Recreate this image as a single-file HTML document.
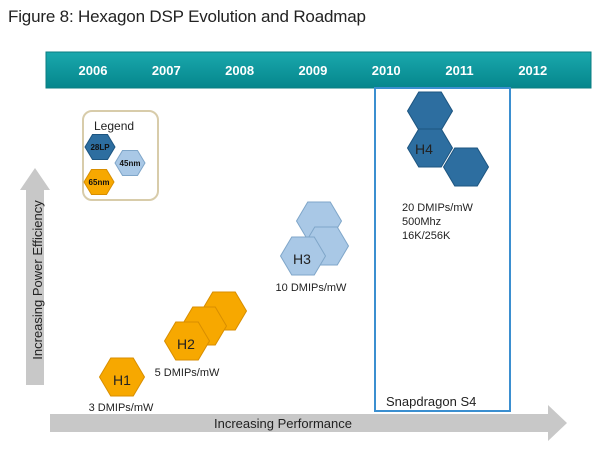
<!DOCTYPE html>
<html><head><meta charset="utf-8"><style>
body{margin:0;background:#fff;}
svg text{font-family:"Liberation Sans",sans-serif;}
</style></head><body>
<svg width="600" height="450" viewBox="0 0 600 450">
<defs>
<linearGradient id="teal" x1="0" y1="0" x2="0" y2="1"><stop offset="0" stop-color="#1aa8ad"/><stop offset="1" stop-color="#05868c"/></linearGradient>
</defs>
<text x="8" y="22" font-size="17" fill="#222" textLength="358">Figure 8: Hexagon DSP Evolution and Roadmap</text>
<rect x="46" y="52" width="545" height="36" fill="url(#teal)" stroke="#0a7d82"/>
<g id="years"></g>
<rect x="375" y="88" width="135" height="323" fill="none" stroke="#3b8fd0" stroke-width="2"/>
<text x="386" y="406" font-size="13" fill="#222">Snapdragon S4</text>
<rect x="83" y="111" width="75" height="89" rx="9" fill="none" stroke="#d8ccaa" stroke-width="2"/>
<text x="94" y="130" font-size="12" fill="#222">Legend</text>
<g id="legend"></g>
<polygon points="20,190 35,168 50,190 44,190 44,385 26,385 26,190" fill="#c8c8c8"/>
<text transform="translate(42,280) rotate(-90)" text-anchor="middle" font-size="13" fill="#222">Increasing Power Efficiency</text>
<polygon points="50,414 548,414 548,405 567,423 548,441 548,432 50,432" fill="#c8c8c8"/>
<text x="283" y="428" text-anchor="middle" font-size="13" fill="#222">Increasing Performance</text>
<g id="chips"></g>
</svg>
<script>
const years=["2006","2007","2008","2009","2010","2011","2012"];
const chipNames=["H1","H2","H3","H4"];
const chipDmips=["3 DMIPs/mW","5 DMIPs/mW","10 DMIPs/mW","20 DMIPs/mW"];
const chipNodes=["65nm","65nm","45nm","28LP"];
const colors={"65nm":["#f7a800","#d88e00"],"45nm":["#a9c8e6","#7fa6c9"],"28LP":["#2d6ea0","#1d5580"]};
const NS="http://www.w3.org/2000/svg";
function mk(t,a){const e=document.createElementNS(NS,t);for(const k in a)e.setAttribute(k,a[k]);return e;}
function hexPts(cx,cy,w,h){const q=w/4;return [[cx-w/2,cy],[cx-q,cy-h/2],[cx+q,cy-h/2],[cx+w/2,cy],[cx+q,cy+h/2],[cx-q,cy+h/2]].map(p=>p.join(",")).join(" ");}
function hex(g,cx,cy,w,h,node,name){const c=colors[node];const p=mk("polygon",{points:hexPts(cx,cy,w,h),fill:c[0],stroke:c[1],"stroke-width":1});


g.appendChild(p);}
const yg=document.getElementById("years");
const xYear=i=>93+i*73.3;
years.forEach((y,i)=>{const t=mk("text",{x:xYear(i),y:75,"text-anchor":"middle","font-size":13,"font-weight":"bold",fill:"#fff"});t.textContent=y;


yg.appendChild(t);});
const lg=document.getElementById("legend");
[["28LP",100,147],["45nm",130,163],["65nm",99,182]].forEach(([n,x,y])=>{hex(lg,x,y,30,25,n,'legend-hex-'+n.toLowerCase());const t=mk("text",{x:x,y:y+3,"text-anchor":"middle","font-size":8,"font-weight":"bold",fill:"#111"});t.textContent=n;


lg.appendChild(t);});
const layout=[
 {hexes:[[122,377]],lab:[122,385],dm:[121,411],anchor:"middle"},
 {hexes:[[224,311],[204,326],[187,341]],lab:[186,349],dm:[187,376],anchor:"middle"},
 {hexes:[[319,221],[326,246],[303,256]],lab:[302,264],dm:[311,291],anchor:"middle"},
 {hexes:[[430,111],[430,148],[466,167]],lab:[424,154],dm:[402,211],anchor:"start"}];
const cg=document.getElementById("chips");
chipNames.forEach((n,i)=>{const L=layout[i];const g=mk("g",{});


L.hexes.forEach((h,j)=>hex(g,h[0],h[1],45,38,chipNodes[i],'hex-'+n.toLowerCase()+'-'+j));
const t=mk("text",{x:L.lab[0],y:L.lab[1],"text-anchor":"middle","font-size":14,fill:"#222"});t.textContent=n;


g.appendChild(t);
const lines=i===3?[chipDmips[i],"500Mhz","16K/256K"]:[chipDmips[i]];
lines.forEach((s,k)=>{const d=mk("text",{x:L.dm[0],y:L.dm[1]+k*14,"text-anchor":L.anchor,"font-size":11,fill:"#222"});d.textContent=s;


g.appendChild(d);});
cg.appendChild(g);});
</script>
</body></html>
